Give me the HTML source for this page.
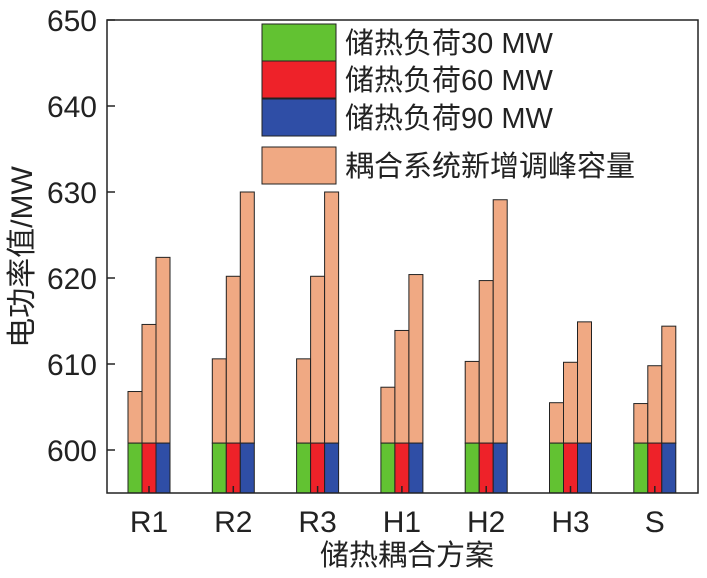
<!DOCTYPE html>
<html><head><meta charset="utf-8"><style>
body{margin:0;background:#fff}
svg text{font-family:"Liberation Sans","Noto Sans CJK SC",sans-serif;fill:#222}
</style></head><body>
<svg id="c" width="707" height="573" xmlns="http://www.w3.org/2000/svg"></svg>
<script>
const categories=["R1","R2","R3","H1","H2","H3","S"];
const base=[600.8,600.8,600.8,600.8,600.8,600.8,600.8];
const top30=[606.8,610.6,610.6,607.3,610.3,605.5,605.4];
const top60=[614.6,620.2,620.2,613.9,619.7,610.2,609.8];
const top90=[622.4,630.0,630.0,620.4,629.1,614.9,614.4];
const yTicks=[600,610,620,630,640,650];
const legendLabels=["储热负荷30 MW","储热负荷60 MW","储热负荷90 MW","耦合系统新增调峰容量"];
const colors=["#62c232","#ee2229","#2f4ea6","#f0a983"];
const svg=document.getElementById('c');
const NS="http://www.w3.org/2000/svg";
const L=107,R=698,T=20,B=493;
const y=v=>450-(v-600)*8.6;
const x=i=>149+i*84.3;
function mk(t,a,txt){const e=document.createElementNS(NS,t);for(const k in a)e.setAttribute(k,a[k]);if(txt!=null)e.textContent=txt;svg.appendChild(e);return e;}
const tops=[top30,top60,top90];
categories.forEach((c,i)=>{
  tops.forEach((s,j)=>{
    const x0=x(i)-21+j*14;
    const p=mk('rect',{x:x0,y:y(s[i]),width:14,height:y(base[i])-y(s[i]),fill:colors[3],stroke:'#222','stroke-width':1});
    
    
    const b=mk('rect',{x:x0,y:y(base[i]),width:14,height:B-y(base[i]),fill:colors[j],stroke:'#222','stroke-width':1});
    
    
  });
  const tk=mk('line',{x1:x(i),x2:x(i),y1:B,y2:B-7,stroke:'#222','stroke-width':1.5});
  
  
  const lb=mk('text',{x:x(i),y:532,'font-size':30,'text-anchor':'middle'},c);
  
  
});
const fr=mk('rect',{x:L,y:T,width:R-L,height:B-T,fill:'none',stroke:'#222','stroke-width':1.5});


yTicks.forEach(v=>{
  const t=mk('line',{x1:L,x2:L+8,y1:y(v),y2:y(v),stroke:'#222','stroke-width':1.5});
  
  
  const l=mk('text',{x:97,y:y(v)+11,'font-size':30,'text-anchor':'end'},v);
  
  
});
const ly=[24,61,99,147];
legendLabels.forEach((s,i)=>{
  const r=mk('rect',{x:262,y:ly[i],width:74,height:37,fill:colors[i],stroke:'#222','stroke-width':1});
  
  
  const t=mk('text',{x:345,y:ly[i]+29,'font-size':29},s);
  
  
});
const xt=mk('text',{x:407,y:565,'font-size':29,'text-anchor':'middle'},'储热耦合方案');


const yt=mk('text',{x:0,y:0,'font-size':30,'text-anchor':'middle',transform:'translate(32,257) rotate(-90)'},'电功率值/MW');


</script>
</body></html>
